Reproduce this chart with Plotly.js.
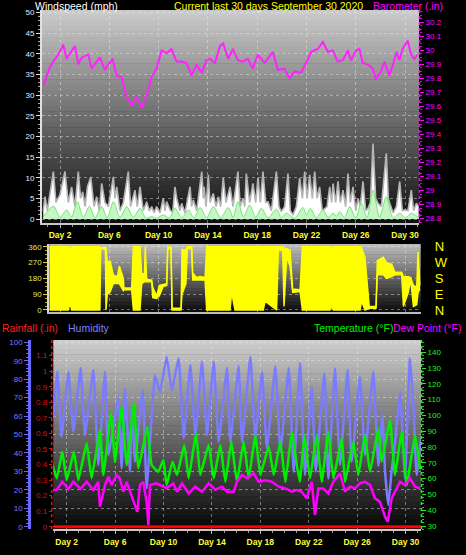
<!DOCTYPE html>
<html><head><meta charset="utf-8">
<script src="https://cdn.plot.ly/plotly-3.0.1.min.js"></script>
<style>html,body{margin:0;padding:0;background:#000;}#chart{width:466px;height:555px;}</style>
</head><body><div id="chart"></div>
<script>
// ---------- DATA (x values are days of the 30-day period) ----------
const dayTicks  = [2, 6, 10, 14, 18, 22, 26, 30];
const dayLabels = ['Day 2','Day 6','Day 10','Day 14','Day 18','Day 22','Day 26','Day 30'];

// Wind gust (mph)
const gustDays = [0.64,0.78,0.97,1.19,1.46,1.67,2.00,2.40,2.67,2.94,3.21,3.48,3.67,3.84,4.03,4.22,4.49,4.76,4.97,5.19,5.38,5.65,5.92,6.33,6.46,6.60,6.87,7.14,7.54,7.73,8.08,8.27,8.49,8.76,9.03,9.25,9.44,9.63,9.84,10.11,10.38,10.52,10.65,10.93,11.14,11.33,11.47,11.74,11.87,12.14,12.55,12.68,12.82,13.09,13.50,13.63,13.69,13.85,14.04,14.17,14.44,14.66,14.85,15.04,15.25,15.47,15.80,16.04,16.44,16.63,16.85,16.99,17.12,17.39,17.66,17.88,18.07,18.26,18.47,18.69,18.88,19.15,19.56,19.77,19.96,20.23,20.50,20.69,20.91,21.18,21.45,21.67,21.86,22.05,22.26,22.48,22.67,22.86,23.07,23.29,23.48,23.67,23.89,24.05,24.16,24.37,24.56,24.75,24.97,25.18,25.37,25.56,25.78,26.00,26.19,26.37,26.59,26.81,27.00,27.19,27.40,27.62,27.81,28.08,28.48,28.65,28.76,29.03,29.30,29.57,29.78,29.97,30.24,30.51,30.70,30.92,31.11];
const gustMph  = [2,5.4,2,6,11.5,4,6,11.5,4,7.8,3,11.5,5,6.6,3,7.8,10.2,3,5.4,2,8.6,4,3,10.2,5,7.8,2,4,11.5,3,7,3,7.8,2,4.2,2,3,1.5,3,1.5,5,2,4.2,2.2,1.5,7.8,5,2,3.8,1.5,7.8,3,4.6,2,11.5,5,7.8,3,10.7,4,6.2,3,5.4,3,10,4,7.8,3,11.5,3,5,3,11,4,8.6,4,10,4,11.5,4,4.2,2,11.5,3,1.8,3,11,2,1,3,9.9,5,11.5,5,10.7,5,11.5,5,7.8,2,2.6,3,7.8,4,8.6,4,9.1,4,7,3,11,4,7.8,2,5,3,9.1,2,2.6,4,18.3,5,3.8,3,15.9,5,3.8,1.5,3,9.1,2,2.2,2,7,2,3.8,3];

// Average wind speed (mph)
const avgDays = [0.64,1.46,2.00,2.54,2.94,3.40,3.89,4.38,4.84,5.38,5.84,6.33,6.87,7.41,7.95,8.49,8.98,9.44,9.84,10.38,10.87,11.33,11.87,12.41,12.87,13.36,13.90,14.44,15.04,15.66,16.04,16.44,16.90,17.39,17.88,18.34,18.88,19.56,19.96,20.37,21.04,21.72,21.99,22.32,22.80,23.34,23.75,24.16,24.43,24.70,25.10,25.51,26.00,26.46,26.92,27.40,27.94,28.48,29.03,29.57,30.05,30.51,31.11];
const avgMph  = [0.5,3.1,0.4,2.2,0.5,4.2,0.4,3.1,0.3,3.0,0.3,4.2,0.4,3.0,0.4,2.6,0.2,0.6,0.2,1.0,0.2,2.6,0.3,2.2,0.3,2.8,0.3,3.0,0.3,2.8,0.4,4.2,0.5,3.4,0.4,2.6,0.3,2.4,0.3,1.4,0.2,2.8,1.0,2.6,0.3,2.2,0.4,1.4,0.6,1.8,0.3,3.0,0.3,3.8,0.3,7.0,0.4,5.4,0.3,1.4,0.3,1.4,0.3];

// Barometer (in)
const baroDays = [0.64,1.18,1.45,1.86,2.26,2.54,2.81,3.21,3.48,3.76,4.29,4.57,4.97,5.24,5.64,5.91,6.27,6.59,7.00,7.40,7.81,8.22,8.62,9.03,9.43,9.84,10.24,10.65,11.05,11.46,11.87,12.27,12.68,13.08,13.49,13.89,14.16,14.57,14.97,15.24,15.64,16.03,16.43,16.84,17.24,17.65,18.05,18.60,19.27,19.68,20.22,20.62,21.03,21.57,21.97,22.38,22.92,23.33,23.73,24.14,24.54,24.95,25.36,25.62,26.03,26.30,26.57,26.98,27.38,27.65,28.05,28.33,28.73,29.00,29.32,29.54,29.81,30.22,30.49,30.76,31.03];
const baroIn   = [29.75,29.88,29.92,29.97,30.04,29.94,29.98,30.03,29.90,29.95,29.97,29.87,29.92,29.95,29.86,29.90,29.94,29.82,29.81,29.67,29.61,29.67,29.59,29.68,29.81,29.87,30.00,29.98,30.01,29.92,29.92,29.91,29.82,29.90,29.84,29.93,29.94,29.91,30.03,30.05,29.94,30.01,29.93,29.92,29.94,29.87,29.97,29.91,29.99,29.86,29.87,29.80,29.85,29.84,29.91,29.99,30.01,30.06,29.99,30.00,29.92,29.93,30.00,29.93,30.00,30.01,29.91,29.90,29.87,29.79,29.85,29.92,29.82,29.89,29.99,29.93,30.01,30.07,29.97,29.94,29.97];

// Wind direction (degrees): lowest and highest reading in each interval
const dirDays = [1.13,1.32,2.67,2.81,2.94,5.24,5.30,5.68,5.73,5.84,6.06,6.33,6.65,6.81,7.14,7.19,7.81,7.95,8.49,8.63,8.84,8.92,9.03,9.44,9.52,9.84,10.06,10.38,10.66,10.74,11.01,11.09,11.82,11.90,12.22,12.33,12.68,12.77,13.09,13.36,13.77,13.90,15.80,15.93,16.20,18.50,18.64,19.58,19.72,20.07,20.18,20.40,20.67,20.88,21.48,21.67,23.91,24.05,24.18,26.35,26.48,26.75,27.10,27.65,27.75,28.24,28.51,28.92,29.19,29.73,29.87,30.27,30.46,30.68,30.95,31.06,31.22];
const dirLo = [0,0,0,40,0,0,350,345,0,90,100,150,150,150,110,115,115,0,0,150,160,160,160,160,70,65,80,135,140,350,350,0,0,90,150,350,350,170,170,170,170,0,0,100,0,0,50,0,340,340,20,300,250,100,105,0,0,20,0,0,50,0,10,10,200,200,180,190,200,200,20,100,175,20,30,100,120];
const dirHi = [360,360,360,350,360,360,355,355,355,270,280,200,190,250,180,125,125,360,360,210,200,360,175,170,130,80,140,145,150,360,355,10,10,345,340,360,360,210,185,190,185,360,360,360,360,360,360,360,360,360,350,350,340,120,115,360,360,350,360,360,350,300,20,20,280,300,270,260,215,215,190,190,185,140,130,330,140];
const dirTicks = [0, 90, 180, 270, 360];
const compassLabels = ['N', 'E', 'S', 'W', 'N'];

// Humidity (%)
const humDays = [0.89,1.23,1.58,2.14,2.55,3.15,3.51,4.20,4.61,5.17,5.44,6.27,6.54,6.82,7.23,7.37,7.65,8.28,8.61,9.30,9.71,10.26,10.69,11.25,11.67,12.22,12.63,13.18,13.60,14.15,14.56,15.25,15.52,16.21,16.49,17.18,17.59,18.14,18.55,19.24,19.66,20.35,20.76,21.28,21.69,22.25,22.58,23.29,23.62,24.17,24.59,25.22,25.55,26.24,26.65,27.34,27.76,28.09,28.31,28.58,28.86,29.13,29.55,29.96,30.37,30.65,30.92,31.28];
const humPct  = [58.8,84,48.8,84,51.5,86,49.7,85,33.5,84,38.9,69.6,31.7,75,29.8,65,35.3,74,20.8,82,73,92,74,91.3,47.9,87.7,49.7,89.5,49.7,89.5,46.1,86,46.1,87,46.1,92.2,47.9,84,42.5,87,40.7,86,29.8,88.6,28,75.9,29.8,83.2,26.2,85.9,33.5,85,35.2,81.3,38.9,84,33,60.6,30,11.8,31,45,73.2,26.2,91.3,66,28,48];

// Temperature (F)
const tempDays = [0.76,1.17,1.64,2.00,2.60,2.96,3.65,4.06,4.75,5.03,5.66,5.99,6.54,6.96,7.56,7.92,8.66,9.02,9.57,9.99,10.26,10.75,11.12,11.72,12.08,12.69,13.04,13.73,14.15,14.70,15.11,15.61,16.07,16.63,17.04,17.59,18.00,18.69,19.11,19.66,20.07,20.62,21.03,21.28,21.64,22.11,22.66,23.07,23.62,24.04,24.73,25.00,25.69,26.10,26.65,27.07,27.76,28.03,28.72,29.13,29.68,30.10,30.79,31.20];
const tempF    = [70.7,60.2,77,59.1,77,59.1,82.4,60.2,90.8,62.3,101.4,70.7,105.6,68.6,107.7,66.5,92.9,68.6,64.4,71.8,56,70.7,62.3,81.3,60.2,88.7,62.3,81.3,60.2,81.3,58,83.4,58,83.4,60.2,87.6,62.3,80.2,62.3,83.4,58,89.7,68,58,87.6,60.2,87.6,58,89.7,60.2,85.5,58,83.4,62.3,87.6,64.4,91.9,70.7,97.1,62.3,89.7,56,87.6,66];

// Dew point (F)
const dewDays = [0.76,1.17,1.64,2.14,2.55,3.15,3.65,4.20,4.61,4.75,5.17,5.44,5.72,6.13,6.40,6.68,6.96,7.37,7.83,8.06,8.33,8.61,8.75,8.88,9.43,9.99,10.26,10.81,11.12,11.53,12.08,12.63,13.18,13.73,14.28,14.84,15.25,15.80,16.07,16.49,16.90,17.45,17.87,18.42,18.97,19.52,20.07,20.62,21.03,21.42,21.83,22.25,22.52,22.80,23.21,23.62,24.04,24.59,25.00,25.41,25.83,26.24,26.65,27.07,27.48,27.89,28.31,28.53,28.86,29.13,29.55,29.96,30.37,30.79,31.20];
const dewF    = [52.8,52.8,58,53.5,58,53.5,58,52.8,58,42.2,56,61.2,56,62.3,60.2,51.7,58,49.6,39,56,58,45,30.6,56,57,55,54,57,51.7,57,50.6,54.9,51.7,57,53,54.9,51.7,51.7,58,62.3,60.2,63.4,58,59,58,54.9,53.8,51.7,52.8,51.7,47.5,58,37,53.8,53.8,50.6,58,63.4,51.7,54.9,53.8,57,58,55.9,47.5,45.4,35.9,32.7,47.5,51.7,58,55.9,60.2,54.9,53.8];

// Rainfall (in)
const rainDays = [0.9, 4, 8, 12, 16, 20, 24, 28, 31.27];
const rainIn   = [0, 0, 0, 0, 0, 0, 0, 0, 0];
const rainTicks = [0,0.1,0.2,0.3,0.4,0.5,0.6,0.7,0.8,0.9,1,1.1];

// ---------- LAYOUT HELPERS ----------
const W = 466, H = 555;
const px = x => x / W, py = y => 1 - y / H;
const FNT = 'Liberation Sans Narrow, Liberation Sans, Arial, sans-serif';
const TFNT = 'Liberation Sans, Arial, sans-serif';
const GRID = 'rgba(235,235,235,0.45)';

function gradient(x0, x1, y0, y1, g0, g1, n) {
  const s = [];
  for (let i = 0; i < n; i++) {
    const g = Math.round(g0 + (g1 - g0) * i / (n - 1));
    const c = 'rgb(' + g + ',' + g + ',' + g + ')';
    const ya = y0 + (y1 - y0) * i / n, yb = y0 + (y1 - y0) * (i + 1) / n + 0.6;
    s.push({type:'rect', xref:'paper', yref:'paper', x0:px(x0), x1:px(x1), y0:py(ya), y1:py(Math.min(yb, y1)),
            fillcolor:c, line:{width:0}, layer:'below'});
  }
  return s;
}
function vline(x, y0, y1, color) {
  return {type:'line', xref:'paper', yref:'paper', x0:px(x), x1:px(x), y0:py(y0), y1:py(y1),
          line:{color:color, width:1.5, dash:'dot'}, layer:'above'};
}
const shapes = [].concat(
  gradient(42, 419, 10, 223, 202, 16, 40),
  gradient(49.3, 420.7, 244, 311.7, 186, 14, 20),
  gradient(53.3, 421, 340, 529.3, 204, 8, 40),
  [vline(419.5, 10, 223, '#ff00ff'), vline(51.7, 340, 529.3, '#ee1111'), vline(421.5, 340, 529.3, '#22ee22')]
);

function ann(text, x, y, color) {
  return {text:text, x:px(x), y:py(y), xref:'paper', yref:'paper', xanchor:'left', yanchor:'middle',
          showarrow:false, font:{family:TFNT, size:10.5, color:color}};
}
const annotations = [
  ann('Windspeed (mph)', 33, 6, '#ffffff'),
  ann('Current last 30 days September 30 2020', 172, 6, '#ffff00'),
  ann('Barometer (.in)', 371, 6, '#ff00ff'),
  ann('Rainfall (.in)', 0, 327.5, '#ff2020'),
  ann('Humidity', 66, 327.5, '#8080ff'),
  ann('Temperature (°F)', 312, 327.5, '#00ee00'),
  ann('Dew Point (°F)', 391, 327.5, '#ff00ff')
];

const dayFont = {family:FNT, size:8.5, color:'#ffff33', weight:'bold'};
const minorX = {tickmode:'linear', tick0:0, dtick:1, ticks:'outside', ticklen:2, tickcolor:'#999', showgrid:false};

const layout = {
  width:W, height:H, margin:{l:0, r:0, t:0, b:0},
  paper_bgcolor:'#000', plot_bgcolor:'rgba(0,0,0,0)', showlegend:false,
  shapes:shapes, annotations:annotations,
  // Panel 1: wind & barometer
  xaxis:{domain:[px(42), px(419)], range:[0.536, 31.136], anchor:'y', tickmode:'array', tickvals:dayTicks, ticktext:dayLabels,
         tickfont:dayFont, ticks:'outside', ticklen:3, tickcolor:'#bbb', showgrid:true, gridcolor:GRID, griddash:'dot',
         showline:true, linecolor:'#c8c8c8', linewidth:2, zeroline:false, minor:minorX, fixedrange:true},
  yaxis:{domain:[py(223), py(10)], range:[-0.97, 50.65], anchor:'x', tick0:0, dtick:5,
         tickfont:{family:FNT, size:8, color:'#e6ecff'}, ticks:'outside', ticklen:4, tickcolor:'#dddddd',
         showgrid:true, gridcolor:GRID, griddash:'dot', showline:true, linecolor:'#e0e0e0', linewidth:2, zeroline:false,
         minor:{tickmode:'linear', tick0:0, dtick:1, ticks:'outside', ticklen:2, tickcolor:'#aaaaaa', showgrid:false}},
  yaxis2:{overlaying:'y', side:'right', anchor:'x', range:[28.769, 30.288], tick0:28.8, dtick:0.1,
          tickfont:{family:FNT, size:8, color:'#ff00ff'}, ticks:'outside', ticklen:4, tickcolor:'#ff00ff',
          showgrid:false, showline:false, zeroline:false,
          minor:{tickmode:'linear', tick0:28.8, dtick:0.025, ticks:'outside', ticklen:2, tickcolor:'#dd00dd', showgrid:false}},
  // Panel 2: wind direction
  xaxis2:{domain:[px(49.3), px(420.7)], range:[1.128, 31.274], anchor:'y3', tickmode:'array', tickvals:dayTicks,
          showticklabels:false, ticks:'', showgrid:true, gridcolor:GRID, griddash:'dot',
          showline:true, linecolor:'#bdbdbd', linewidth:2, zeroline:false},
  yaxis3:{domain:[py(311.7), py(244)], range:[-9.7, 375.4], anchor:'x2', tickmode:'array', tickvals:dirTicks,
          tickfont:{family:FNT, size:8, color:'#e8e850'}, ticks:'outside', ticklen:4, tickcolor:'#d6d640',
          showgrid:true, gridcolor:GRID, griddash:'dot', showline:true, linecolor:'#d8d8d8', linewidth:2, zeroline:false,
          minor:{tickmode:'linear', tick0:0, dtick:22.5, ticks:'outside', ticklen:2, tickcolor:'#b0b030', showgrid:false}},
  yaxis4:{overlaying:'y3', side:'right', anchor:'x2', range:[-9.7, 375.4], tickmode:'array', tickvals:dirTicks,
          ticktext:compassLabels, tickfont:{family:TFNT, size:13, color:'#ffff00'}, ticks:'', ticklabelstandoff:13,
          showgrid:false, showline:false, zeroline:false},
  // Panel 3: rain, humidity, temperature, dew point
  xaxis3:{domain:[px(53.3), px(421)], range:[0.893, 31.281], anchor:'y5', tickmode:'array', tickvals:dayTicks, ticktext:dayLabels,
          tickfont:dayFont, ticks:'outside', ticklen:3, tickcolor:'#bbb', showgrid:true, gridcolor:GRID, griddash:'dot',
          showline:true, linecolor:'#c8c8c8', linewidth:2, zeroline:false, minor:minorX},
  yaxis5:{domain:[py(529.3), py(340)], range:[-1.41, 101.25], anchor:'free', position:px(29.3), side:'left', tick0:0, dtick:10,
          tickfont:{family:FNT, size:8, color:'#7c7cff'}, ticks:'outside', ticklen:4, tickcolor:'#6a6aff',
          showgrid:true, gridcolor:GRID, griddash:'dot', showline:true, linecolor:'#6a6aff', linewidth:3, zeroline:false,
          minor:{tickmode:'linear', tick0:0, dtick:2, ticks:'outside', ticklen:2, tickcolor:'#6a6aff', showgrid:false}},
  yaxis6:{overlaying:'y5', anchor:'free', position:px(51.7), side:'left', range:[-0.0167, 1.2005], tickmode:'array', tickvals:rainTicks,
          tickfont:{family:FNT, size:8, color:'#dd1111'}, ticks:'outside', ticklen:3, tickcolor:'#dd1111',
          showgrid:false, showline:false, zeroline:false},
  yaxis7:{overlaying:'y5', anchor:'x3', side:'right', range:[27.91, 147.8], tick0:30, dtick:10,
          tickfont:{family:FNT, size:8, color:'#22ee22'}, ticks:'outside', ticklen:4, tickcolor:'#22ee22',
          showgrid:false, showline:false, zeroline:false,
          minor:{tickmode:'linear', tick0:30, dtick:2, ticks:'outside', ticklen:2, tickcolor:'#22cc22', showgrid:false}}
};

const data = [
  {x:gustDays, y:gustMph, xaxis:'x', yaxis:'y', type:'scatter', mode:'lines', fill:'tozeroy',
   fillcolor:'#ffffff', line:{color:'#b4b4b4', width:1.6}, hoverinfo:'skip'},
  {x:avgDays, y:avgMph, xaxis:'x', yaxis:'y', type:'scatter', mode:'lines', fill:'tozeroy',
   fillcolor:'#c6f6c6', line:{color:'#55e455', width:0.8, shape:'spline', smoothing:0.8}, hoverinfo:'skip'},
  {x:baroDays, y:baroIn, xaxis:'x', yaxis:'y2', type:'scatter', mode:'lines',
   line:{color:'#ff22ff', width:2}, hoverinfo:'skip'},
  {x:dirDays, y:dirLo, xaxis:'x2', yaxis:'y3', type:'scatter', mode:'lines',
   line:{color:'#ffff00', width:1.4}, hoverinfo:'skip'},
  {x:dirDays, y:dirHi, xaxis:'x2', yaxis:'y3', type:'scatter', mode:'lines', fill:'tonexty',
   fillcolor:'#ffff00', line:{color:'#ffff00', width:1.4}, hoverinfo:'skip'},
  {x:dirDays, y:dirHi, xaxis:'x2', yaxis:'y4', type:'scatter', mode:'lines', opacity:0,
   line:{width:0}, hoverinfo:'skip'},
  {x:humDays, y:humPct, xaxis:'x3', yaxis:'y5', type:'scatter', mode:'lines',
   line:{color:'#7b7bff', width:2.5, shape:'spline', smoothing:0.35}, hoverinfo:'skip'},
  {x:rainDays, y:rainIn, xaxis:'x3', yaxis:'y6', type:'scatter', mode:'lines',
   line:{color:'#ff0000', width:3}, hoverinfo:'skip'},
  {x:tempDays, y:tempF, xaxis:'x3', yaxis:'y7', type:'scatter', mode:'lines',
   line:{color:'#00ee00', width:2.5, shape:'spline', smoothing:0.35}, hoverinfo:'skip'},
  {x:dewDays, y:dewF, xaxis:'x3', yaxis:'y7', type:'scatter', mode:'lines',
   line:{color:'#ff00ff', width:2.5}, hoverinfo:'skip'}
];

Plotly.newPlot('chart', data, layout, {displayModeBar:false, staticPlot:true});
</script></body></html>
